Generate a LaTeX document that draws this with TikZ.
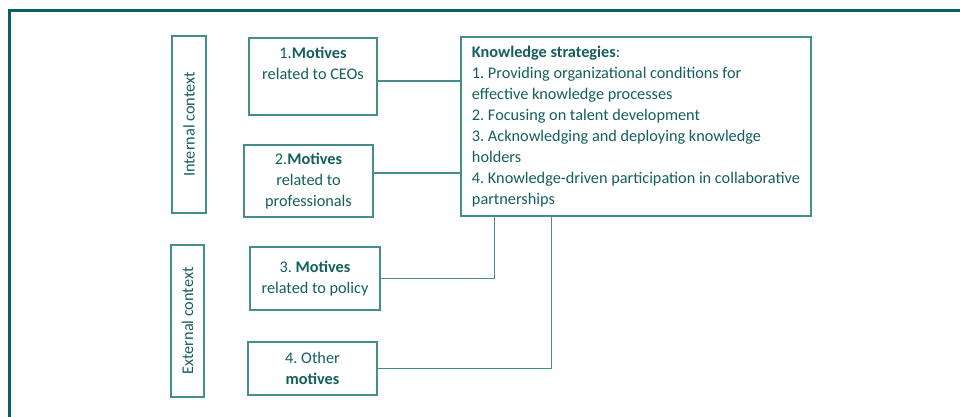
\documentclass[tikz,border=0pt]{standalone}
\usepackage{fontspec}
\setmainfont{Carlito}
\definecolor{frameteal}{HTML}{0A5F5F}
\definecolor{boxteal}{HTML}{458E8E}
\definecolor{textteal}{HTML}{145E5E}
\frenchspacing

\begin{document}
\begin{tikzpicture}[x=0.75pt, y=-0.75pt,
  motive/.style={rectangle, draw=boxteal, line width=0.9pt, text=textteal, align=center, inner sep=2pt, font=\fontsize{12.2}{15.75}\selectfont},
  context/.style={motive, rotate=90},
  strategies/.style={motive, align=left, minimum width=262.5pt},
  link/.style={draw=boxteal, line width=0.9pt}]
\useasboundingbox (0,0) rectangle (960,417);
% outer frame, only top and left edges show
\draw[frameteal, line width=2.25pt] (9.5,417) -- (9.5,10.5) -- (960,10.5);

% context labels
\node[context, minimum width=132.75pt, minimum height=25.5pt] (ictx) at (189,124.5) {Internal context};
\node[context, minimum width=114pt, minimum height=24.75pt] (ectx) at (187.5,321) {External context};

% motives
\node[motive, minimum width=96pt, minimum height=57.75pt] (m1) at (313,76.5) {1.\textbf{Motives}\\related to CEOs\\ \strut};
\node[motive, minimum width=96.75pt, minimum height=54pt] (m2) at (308.5,181) {2.\textbf{Motives}\\related to\\professionals};
\node[motive, minimum width=97.5pt, minimum height=47.25pt] (m3) at (315,278.5) {3. \textbf{Motives}\\related to policy};
\node[motive, minimum width=96.75pt, minimum height=39.75pt] (m4) at (312.5,368.5) {4. Other\\\textbf{motives}};

% knowledge strategies
\node[strategies, minimum height=134.25pt] (ks) at (636,126.5) {\textbf{Knowledge strategies}:\\
1. Providing organizational conditions for\\
effective knowledge processes\\
2. Focusing on talent development\\
3. Acknowledging and deploying knowledge\\
holders\\
4. Knowledge-driven participation in collaborative\\
partnerships};

% connectors
\coordinate (c1) at ([yshift=-3.4pt]m1.east);
\coordinate (c2) at ([yshift=6pt]m2.east);
\draw[link] (c1) -- (c1 -| ks.west);
\draw[link] (c2) -- (c2 -| ks.west);
\draw[link] (m3.east) -| ([xshift=25.5pt]ks.south west);
\draw[link] (m4.east) -| ([xshift=68.25pt]ks.south west);
\end{tikzpicture}
\end{document}
